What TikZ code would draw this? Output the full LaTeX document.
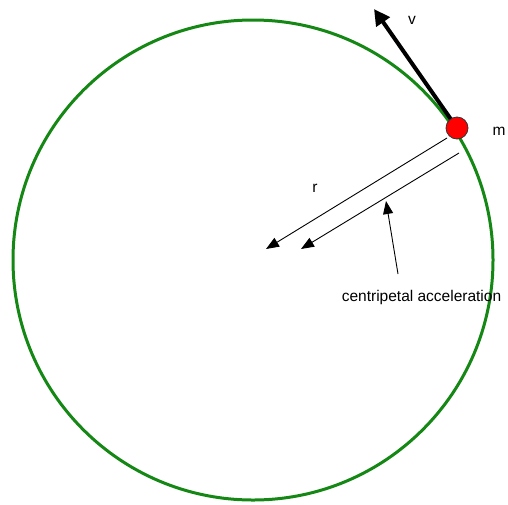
\documentclass[tikz,border=0pt]{standalone}
\usepackage{fontspec}
\setmainfont{Liberation Sans}
\usetikzlibrary{arrows.meta}
\definecolor{orbit}{RGB}{20,135,20}
\tikzset{
  thinarrow/.style={draw=black, line width=0.9pt, -{Triangle[length=13pt,width=10pt]}},
  velarrow/.style={draw=black, line width=4pt, -{Triangle[length=16pt,width=16pt]}},
  lbl/.style={font=\fontsize{15.5}{18}\selectfont, inner sep=0pt}
}
\begin{document}
\begin{tikzpicture}[x=1pt,y=-1pt]
\useasboundingbox (0,0) rectangle (508,504);
\node[circle, draw=orbit, line width=3pt, minimum size=480pt, inner sep=0pt] (orbitc) at (253,260) {};
\coordinate (vtip) at (374,9);
\draw[velarrow] (457,128) -- (vtip);
\node[circle, draw=black!80, line width=0.8pt, fill=red, minimum size=22pt, inner sep=0pt] (mass) at (457,128) {};
\node[lbl] (vl) at (412,20) {v};
\node[lbl] (ml) at (499,131) {m};
\coordinate (rs) at (447,138);
\coordinate (re) at (266,249);
\draw[thinarrow] (rs) -- (re);
\coordinate (as) at (459,153);
\coordinate (ae) at (301,249);
\draw[thinarrow] (as) -- (ae);
\node[lbl] (rl) at (315,188) {r};
\node[lbl] (cl) at (421.5,297) {centripetal acceleration};
\coordinate (ps) at (398,274);
\coordinate (pe) at (386,201);
\draw[thinarrow] (ps) -- (pe);
\end{tikzpicture}
\end{document}
